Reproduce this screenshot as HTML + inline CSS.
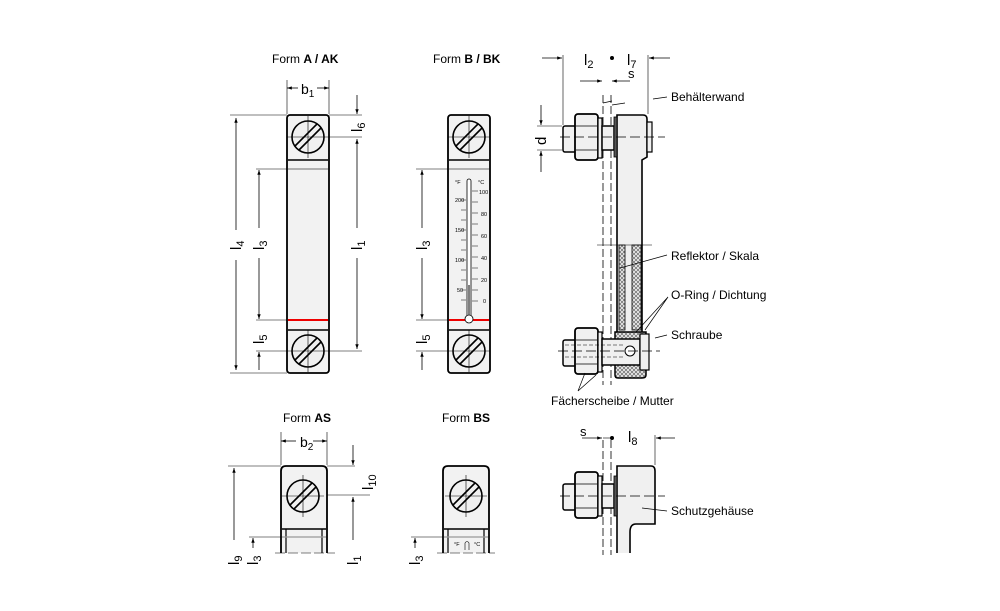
<!DOCTYPE html>
<html><head><meta charset="utf-8"><style>
html,body{margin:0;padding:0;background:#fff}
svg{display:block}
text{font-family:"Liberation Sans",Arial,sans-serif;fill:#000}
</style></head><body>
<svg width="1000" height="611" viewBox="0 0 1000 611" xmlns="http://www.w3.org/2000/svg">
<defs>
<marker id="ar" viewBox="0 0 10 10" refX="10" refY="5" markerWidth="8" markerHeight="6" orient="auto-start-reverse"><path d="M0,1.5 L10,5 L0,8.5 z" fill="#000"/></marker>
<pattern id="hatch" width="4" height="4" patternUnits="userSpaceOnUse"><rect width="4" height="4" fill="#e8e8e8"/><path d="M0,4 L4,0 M0,0 L4,4" stroke="#555" stroke-width="0.6"/></pattern>
<g id="screw">
<circle r="16" fill="#f0f0f0" stroke="#000" stroke-width="1.6"/>
<path d="M-13,9 L9,-13 M-9,13 L13,-9" stroke="#000" stroke-width="1.6"/>
<path d="M-21,0 H21 M0,-21 V21" stroke="#000" stroke-width="0.6"/>
</g>
</defs>

<!-- Titles -->
<text x="272" y="63" font-size="12">Form <tspan font-weight="bold">A / AK</tspan></text>
<text x="433" y="63" font-size="12">Form <tspan font-weight="bold">B / BK</tspan></text>
<text x="283" y="422" font-size="12">Form <tspan font-weight="bold">AS</tspan></text>
<text x="442" y="422" font-size="12">Form <tspan font-weight="bold">BS</tspan></text>

<!-- ===== Form A ===== -->
<g stroke="#000" fill="none">
<rect x="287" y="115" width="42" height="258" rx="3" fill="#f2f2f2" stroke-width="1.8"/>
<line x1="288" y1="160" x2="328" y2="160" stroke-width="1.5"/>
<line x1="288" y1="330" x2="328" y2="330" stroke-width="1.5"/>
<line x1="288" y1="169" x2="328" y2="169" stroke="#999" stroke-width="1.5"/>
<line x1="288" y1="320" x2="328" y2="320" stroke="#e00" stroke-width="2"/>
<line x1="287" y1="80" x2="287" y2="114" stroke-width="0.6"/>
<line x1="329" y1="80" x2="329" y2="114" stroke-width="0.6"/>
<line x1="287" y1="88" x2="298" y2="88" stroke-width="0.8" marker-start="url(#ar)"/>
<line x1="317" y1="88" x2="329" y2="88" stroke-width="0.8" marker-end="url(#ar)"/>
<line x1="230" y1="115" x2="287" y2="115" stroke-width="0.6"/>
<line x1="230" y1="373" x2="287" y2="373" stroke-width="0.6"/>
<line x1="329" y1="115" x2="362" y2="115" stroke-width="0.6"/>
<line x1="329" y1="137" x2="362" y2="137" stroke-width="0.6"/>
<line x1="329" y1="351" x2="362" y2="351" stroke-width="0.6"/>
<line x1="256" y1="169" x2="287" y2="169" stroke-width="0.6"/>
<line x1="256" y1="320" x2="287" y2="320" stroke-width="0.6"/>
<line x1="256" y1="351" x2="287" y2="351" stroke-width="0.6"/>
<line x1="236" y1="118" x2="236" y2="230" stroke-width="0.8" marker-start="url(#ar)"/>
<line x1="236" y1="260" x2="236" y2="370" stroke-width="0.8" marker-end="url(#ar)"/>
<line x1="259" y1="170" x2="259" y2="228" stroke-width="0.8" marker-start="url(#ar)"/>
<line x1="259" y1="258" x2="259" y2="319" stroke-width="0.8" marker-end="url(#ar)"/>
<line x1="357" y1="95" x2="357" y2="114" stroke-width="0.8" marker-end="url(#ar)"/>
<line x1="357" y1="139" x2="357" y2="228" stroke-width="0.8" marker-start="url(#ar)"/>
<line x1="357" y1="258" x2="357" y2="349" stroke-width="0.8" marker-end="url(#ar)"/>
<line x1="259" y1="352" x2="259" y2="370" stroke-width="0.8" marker-start="url(#ar)"/>
</g>
<use href="#screw" x="308" y="137"/>
<use href="#screw" x="308" y="351"/>
<text x="301" y="94" font-size="14">b<tspan font-size="10" dy="3">1</tspan></text>
<text font-size="15" transform="translate(241,250) rotate(-90)">l<tspan font-size="11" dy="3">4</tspan></text>
<text font-size="15" transform="translate(264,250) rotate(-90)">l<tspan font-size="11" dy="3">3</tspan></text>
<text font-size="15" transform="translate(362,250) rotate(-90)">l<tspan font-size="11" dy="3">1</tspan></text>
<text font-size="15" transform="translate(362,132) rotate(-90)">l<tspan font-size="11" dy="3">6</tspan></text>
<text font-size="15" transform="translate(264,344) rotate(-90)">l<tspan font-size="11" dy="3">5</tspan></text>

<!-- ===== Form B ===== -->
<g stroke="#000" fill="none">
<rect x="448" y="115" width="42" height="258" rx="3" fill="#f2f2f2" stroke-width="1.8"/>
<line x1="449" y1="160" x2="489" y2="160" stroke-width="1.5"/>
<line x1="449" y1="330" x2="489" y2="330" stroke-width="1.5"/>
<line x1="449" y1="169" x2="489" y2="169" stroke="#999" stroke-width="1.5"/>
<line x1="449" y1="320" x2="489" y2="320" stroke="#e00" stroke-width="2"/>
<rect x="467" y="179" width="4" height="138" rx="2" fill="#fff" stroke-width="0.8"/>
<line x1="469" y1="285" x2="469" y2="317" stroke-width="1"/>
<circle cx="469" cy="319" r="4" fill="#fff" stroke-width="0.8"/>
<path d="M472,191 H478 M472,202 H478 M472,213 H478 M472,224 H478 M472,235 H478 M472,246 H478 M472,257 H478 M472,268 H478 M472,279 H478 M472,290 H478 M472,301 H478" stroke-width="0.6"/>
<path d="M461,200 H466 M461,210 H466 M461,220 H466 M461,230 H466 M461,240 H466 M461,250 H466 M461,260 H466 M461,270 H466 M461,280 H466 M461,290 H466 M461,300 H466" stroke-width="0.6"/>
<line x1="416" y1="169" x2="448" y2="169" stroke-width="0.6"/>
<line x1="416" y1="320" x2="448" y2="320" stroke-width="0.6"/>
<line x1="416" y1="351" x2="448" y2="351" stroke-width="0.6"/>
<line x1="422" y1="170" x2="422" y2="228" stroke-width="0.8" marker-start="url(#ar)"/>
<line x1="422" y1="258" x2="422" y2="319" stroke-width="0.8" marker-end="url(#ar)"/>
<line x1="422" y1="352" x2="422" y2="370" stroke-width="0.8" marker-start="url(#ar)"/>
</g>
<use href="#screw" x="469" y="137"/>
<use href="#screw" x="469" y="351"/>
<g font-size="5.5">
<text x="455" y="184">°F</text><text x="478" y="184">°C</text>
<text x="479" y="194">100</text><text x="481" y="216">80</text><text x="481" y="238">60</text><text x="481" y="260">40</text><text x="481" y="282">20</text><text x="483" y="303">0</text>
<text x="455" y="202">200</text><text x="455" y="232">150</text><text x="455" y="262">100</text><text x="457" y="292">50</text>
</g>
<text font-size="15" transform="translate(427,250) rotate(-90)">l<tspan font-size="11" dy="3">3</tspan></text>
<text font-size="15" transform="translate(427,344) rotate(-90)">l<tspan font-size="11" dy="3">5</tspan></text>

<!-- ===== Side view top ===== -->
<g stroke="#000" fill="none">
<line x1="603" y1="95" x2="603" y2="385" stroke-width="0.8" stroke-dasharray="8,3"/>
<line x1="611" y1="95" x2="611" y2="385" stroke-width="0.8" stroke-dasharray="8,3"/>
<rect x="563" y="126" width="13" height="26" rx="2" fill="#f0f0f0" stroke-width="1.5"/>
<rect x="575" y="114" width="23" height="46" rx="3" fill="#f0f0f0" stroke-width="1.8"/>
<line x1="576" y1="126" x2="597" y2="126" stroke-width="0.8"/>
<line x1="576" y1="150" x2="597" y2="150" stroke-width="0.8"/>
<rect x="598" y="118" width="4" height="40" fill="#f0f0f0" stroke-width="1.2"/>
<rect x="602" y="126" width="12" height="24" fill="#f0f0f0" stroke-width="1.5"/>
<path d="M617,115 H643 Q647,115 647,119 V157 L642,160 V372 H617 Z" fill="#f0f0f0" stroke-width="1.6"/>
<rect x="614" y="117" width="3" height="40" fill="#555" stroke-width="0.8"/>
<rect x="647" y="122" width="5" height="30" fill="#f0f0f0" stroke-width="1.2"/>
<line x1="560" y1="137" x2="665" y2="137" stroke-width="0.7" stroke-dasharray="10,4"/>
<rect x="619" y="245" width="6" height="85" fill="url(#hatch)" stroke-width="0.8"/>
<rect x="632" y="245" width="9" height="85" fill="url(#hatch)" stroke-width="0.8"/>
<line x1="597" y1="245" x2="652" y2="245" stroke-width="0.6"/>
<path d="M615,332 H646 V375 Q646,378 642,378 H618 Q615,378 615,375 Z" fill="url(#hatch)" stroke-width="1.5"/>
<rect x="563" y="340" width="13" height="26" rx="2" fill="#f0f0f0" stroke-width="1.5"/>
<rect x="575" y="328" width="23" height="46" rx="3" fill="#f0f0f0" stroke-width="1.8"/>
<line x1="576" y1="340" x2="597" y2="340" stroke-width="0.8"/>
<line x1="576" y1="364" x2="597" y2="364" stroke-width="0.8"/>
<rect x="598" y="332" width="4" height="40" fill="#f0f0f0" stroke-width="1.2"/>
<rect x="602" y="339" width="38" height="26" fill="#f0f0f0" stroke-width="1.5"/>
<rect x="640" y="334" width="9" height="36" fill="#f0f0f0" stroke-width="1.2"/>
<circle cx="630" cy="351" r="5" fill="#fff" stroke-width="1"/>
<line x1="558" y1="351" x2="660" y2="351" stroke-width="0.7" stroke-dasharray="10,4"/>
<line x1="565" y1="345" x2="625" y2="345" stroke-width="0.6" stroke-dasharray="4,2"/>
<line x1="565" y1="357" x2="625" y2="357" stroke-width="0.6" stroke-dasharray="4,2"/>
<line x1="563" y1="55" x2="563" y2="125" stroke-width="0.6"/>
<line x1="648" y1="55" x2="648" y2="114" stroke-width="0.6"/>
<line x1="542" y1="58" x2="562" y2="58" stroke-width="0.8" marker-end="url(#ar)"/>
<line x1="670" y1="58" x2="649" y2="58" stroke-width="0.8" marker-end="url(#ar)"/>
<circle cx="612" cy="58" r="1.5" fill="#000"/>
<line x1="580" y1="81" x2="602" y2="81" stroke-width="0.8" marker-end="url(#ar)"/>
<line x1="630" y1="81" x2="612" y2="81" stroke-width="0.8" marker-end="url(#ar)"/>
<line x1="537" y1="126" x2="562" y2="126" stroke-width="0.6"/>
<line x1="537" y1="150" x2="562" y2="150" stroke-width="0.6"/>
<line x1="541" y1="105" x2="541" y2="125" stroke-width="0.8" marker-end="url(#ar)"/>
<line x1="541" y1="172" x2="541" y2="151" stroke-width="0.8" marker-end="url(#ar)"/>
<path d="M603,103 L612,101 M612,105 L625,103 M653,99 L667,97" stroke-width="0.7"/>
<line x1="620" y1="268" x2="667" y2="255" stroke-width="0.7"/>
<path d="M636,332 L668,297 M645,330 L668,297" stroke-width="0.7"/>
<line x1="655" y1="338" x2="667" y2="335" stroke-width="0.7"/>
<path d="M578,391 L585,373 M578,391 L596,375" stroke-width="0.7"/>
</g>
<text x="584" y="65" font-size="15">l<tspan font-size="11" dy="3">2</tspan></text>
<text x="627" y="65" font-size="15">l<tspan font-size="11" dy="3">7</tspan></text>
<text x="628" y="78" font-size="13">s</text>
<text font-size="15" transform="translate(546,145) rotate(-90)">d</text>
<text x="671" y="101" font-size="12">Behälterwand</text>
<text x="671" y="260" font-size="12">Reflektor / Skala</text>
<text x="671" y="299" font-size="12">O-Ring / Dichtung</text>
<text x="671" y="339" font-size="12">Schraube</text>
<text x="551" y="405" font-size="12">Fächerscheibe / Mutter</text>

<!-- ===== Form AS ===== -->
<g stroke="#000" fill="none">
<path d="M281,553 V471 Q281,466 286,466 H322 Q327,466 327,471 V553" fill="#f2f2f2" stroke-width="1.8"/>
<line x1="282" y1="529" x2="326" y2="529" stroke-width="1.5"/>
<line x1="286" y1="529" x2="286" y2="553" stroke-width="1.2"/>
<line x1="322" y1="529" x2="322" y2="553" stroke-width="1.2"/>
<line x1="282" y1="537" x2="326" y2="537" stroke="#999" stroke-width="1.2"/>
<line x1="275" y1="553" x2="335" y2="553" stroke-width="0.6" stroke-dasharray="10,3"/>
<line x1="281" y1="432" x2="281" y2="465" stroke-width="0.6"/>
<line x1="327" y1="432" x2="327" y2="465" stroke-width="0.6"/>
<line x1="281" y1="441" x2="296" y2="441" stroke-width="0.8" marker-start="url(#ar)"/>
<line x1="313" y1="441" x2="327" y2="441" stroke-width="0.8" marker-end="url(#ar)"/>
<line x1="228" y1="466" x2="281" y2="466" stroke-width="0.6"/>
<line x1="327" y1="466" x2="355" y2="466" stroke-width="0.6"/>
<line x1="327" y1="495" x2="370" y2="495" stroke-width="0.6"/>
<line x1="249" y1="537" x2="281" y2="537" stroke-width="0.6"/>
<line x1="234" y1="468" x2="234" y2="540" stroke-width="0.8" marker-start="url(#ar)"/>
<line x1="253" y1="538" x2="253" y2="548" stroke-width="0.8" marker-start="url(#ar)"/>
<line x1="353" y1="445" x2="353" y2="465" stroke-width="0.8" marker-end="url(#ar)"/>
<line x1="353" y1="497" x2="353" y2="540" stroke-width="0.8" marker-start="url(#ar)"/>
</g>
<use href="#screw" x="303" y="496"/>
<text x="300" y="447" font-size="14">b<tspan font-size="10" dy="3">2</tspan></text>
<text font-size="15" transform="translate(239,565) rotate(-90)">l<tspan font-size="11" dy="3">9</tspan></text>
<text font-size="15" transform="translate(258,565) rotate(-90)">l<tspan font-size="11" dy="3">3</tspan></text>
<text font-size="15" transform="translate(358,565) rotate(-90)">l<tspan font-size="11" dy="3">1</tspan></text>
<text font-size="15" transform="translate(373,490) rotate(-90)">l<tspan font-size="11" dy="3">10</tspan></text>

<!-- ===== Form BS ===== -->
<g stroke="#000" fill="none">
<path d="M443,553 V471 Q443,466 448,466 H484 Q489,466 489,471 V553" fill="#f2f2f2" stroke-width="1.8"/>
<line x1="444" y1="529" x2="488" y2="529" stroke-width="1.5"/>
<line x1="448" y1="529" x2="448" y2="553" stroke-width="1.2"/>
<line x1="484" y1="529" x2="484" y2="553" stroke-width="1.2"/>
<line x1="444" y1="537" x2="488" y2="537" stroke="#999" stroke-width="1.2"/>
<line x1="437" y1="553" x2="495" y2="553" stroke-width="0.6" stroke-dasharray="10,3"/>
<path d="M465,550 V543 Q467,540 469,543 V550" stroke-width="0.6"/>
<line x1="411" y1="537" x2="443" y2="537" stroke-width="0.6"/>
<line x1="415" y1="538" x2="415" y2="548" stroke-width="0.8" marker-start="url(#ar)"/>
</g>
<use href="#screw" x="466" y="496"/>
<text x="454" y="546" font-size="5.5">°F</text><text x="474" y="546" font-size="5.5">°C</text>
<text font-size="15" transform="translate(420,565) rotate(-90)">l<tspan font-size="11" dy="3">3</tspan></text>

<!-- ===== Side view bottom ===== -->
<g stroke="#000" fill="none">
<line x1="603" y1="440" x2="603" y2="555" stroke-width="0.8" stroke-dasharray="8,3"/>
<line x1="611" y1="440" x2="611" y2="555" stroke-width="0.8" stroke-dasharray="8,3"/>
<rect x="563" y="484" width="13" height="26" rx="2" fill="#f0f0f0" stroke-width="1.5"/>
<rect x="575" y="472" width="23" height="46" rx="3" fill="#f0f0f0" stroke-width="1.8"/>
<line x1="576" y1="484" x2="597" y2="484" stroke-width="0.8"/>
<line x1="576" y1="508" x2="597" y2="508" stroke-width="0.8"/>
<rect x="598" y="476" width="4" height="40" fill="#f0f0f0" stroke-width="1.2"/>
<rect x="602" y="484" width="12" height="24" fill="#f0f0f0" stroke-width="1.5"/>
<path d="M617,553 V466 H651 Q655,466 655,471 V524 H636 Q630,524 630,532 V553" fill="#f0f0f0" stroke-width="1.6"/>
<rect x="614" y="476" width="3" height="40" fill="#555" stroke-width="0.8"/>
<line x1="560" y1="496" x2="665" y2="496" stroke-width="0.7" stroke-dasharray="10,4"/>
<line x1="603" y1="438" x2="611" y2="438" stroke-width="0.6"/>
<line x1="582" y1="438" x2="602" y2="438" stroke-width="0.8" marker-end="url(#ar)"/>
<circle cx="612" cy="438" r="1.5" fill="#000"/>
<line x1="655" y1="435" x2="655" y2="465" stroke-width="0.6"/>
<line x1="675" y1="438" x2="656" y2="438" stroke-width="0.8" marker-end="url(#ar)"/>
<line x1="642" y1="508" x2="667" y2="511" stroke-width="0.7"/>
</g>
<text x="580" y="436" font-size="13">s</text>
<text x="628" y="442" font-size="15">l<tspan font-size="11" dy="3">8</tspan></text>
<text x="671" y="515" font-size="12">Schutzgehäuse</text>
</svg>
</body></html>
